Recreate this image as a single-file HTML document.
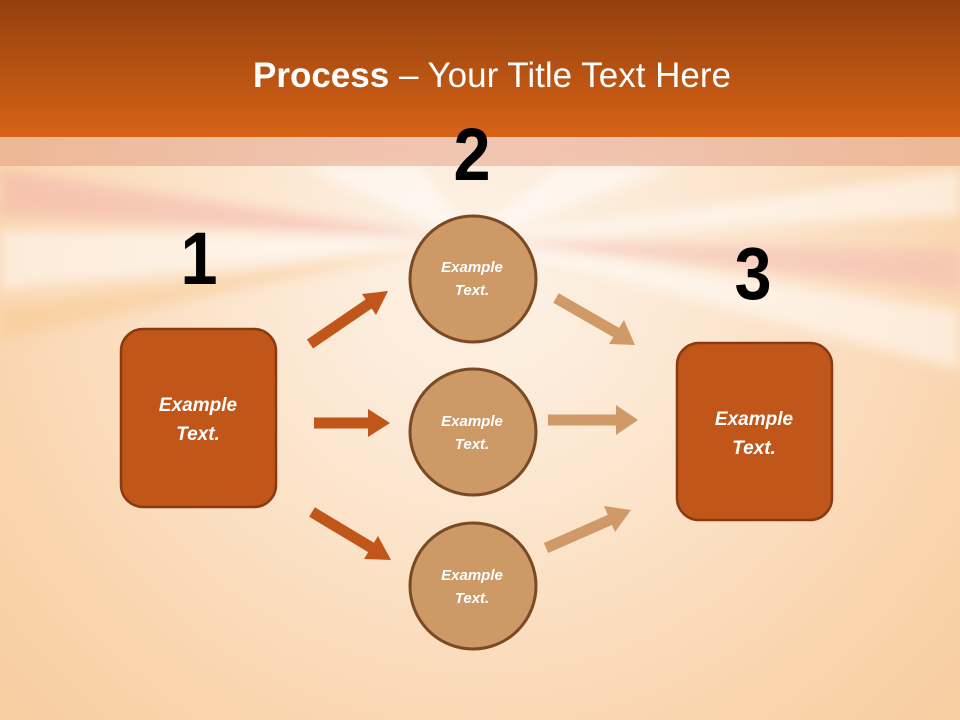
<!DOCTYPE html>
<html><head><meta charset="utf-8"><style>
html,body{margin:0;padding:0;width:960px;height:720px;overflow:hidden}
</style></head><body>
<svg width="960" height="720" viewBox="0 0 960 720" xmlns="http://www.w3.org/2000/svg" font-family="'Liberation Sans',sans-serif">
<defs>
<radialGradient id="bg" cx="480" cy="260" r="700" gradientUnits="userSpaceOnUse">
<stop offset="0" stop-color="#fdf3e8"/>
<stop offset="0.35" stop-color="#fce6cf"/>
<stop offset="0.7" stop-color="#fad6b0"/>
<stop offset="1" stop-color="#f7cb9e"/>
</radialGradient>
<linearGradient id="hd" x1="0" y1="0" x2="0" y2="1">
<stop offset="0" stop-color="#93400d"/>
<stop offset="1" stop-color="#d76317"/>
</linearGradient>
<filter id="bl"><feGaussianBlur stdDeviation="6"/></filter>
</defs>
<rect width="960" height="720" fill="url(#bg)"/>
<g opacity="0.5" filter="url(#bl)">
<polygon points="470,240 0,170 0,215" fill="#f3b0a8"/>
<polygon points="470,240 0,230 0,290" fill="#ffffff"/>
<polygon points="470,240 960,170 960,215" fill="#ffffff"/>
<polygon points="470,240 960,250 960,290" fill="#f3b8b0"/>
<polygon points="470,240 960,310 960,370" fill="#ffffff"/>
<polygon points="470,240 0,310 0,340" fill="#f8c890"/>
<polygon points="470,240 300,166 420,166" fill="#ffffff"/>
<polygon points="470,240 560,166 680,166" fill="#ffffff"/>
</g>
<rect x="0" y="0" width="960" height="137" fill="url(#hd)"/>
<rect x="0" y="137" width="960" height="29" fill="#dc8a6e" opacity="0.4"/>
<text x="492" y="87" text-anchor="middle" font-size="35" fill="#fff"><tspan font-weight="bold">Process</tspan> – Your Title Text Here</text>
<g font-size="74" font-weight="bold" fill="#000" text-anchor="middle">
<text x="472" y="180" transform="translate(472 0) scale(0.9 1) translate(-472 0)">2</text>
<text x="199" y="284" transform="translate(199 0) scale(0.9 1) translate(-199 0)">1</text>
<text x="753" y="299" transform="translate(753 0) scale(0.9 1) translate(-753 0)">3</text>
</g>
<g stroke-linecap="butt">
<line x1="310" y1="344" x2="370" y2="303" stroke="#c0561a" stroke-width="11"/>
<polygon points="388,291 362,294 376,315" fill="#c0561a"/>
<line x1="314" y1="423" x2="368" y2="423" stroke="#c0561a" stroke-width="11"/>
<polygon points="390,423 368,409 368,437" fill="#c0561a"/>
<line x1="312" y1="512" x2="372" y2="548" stroke="#c0561a" stroke-width="11"/>
<polygon points="391,560 378,536 364,559" fill="#c0561a"/>
<line x1="556" y1="298" x2="617" y2="333" stroke="#d09a68" stroke-width="11"/>
<polygon points="635,345 624,320 609,344" fill="#d09a68"/>
<line x1="548" y1="420" x2="616" y2="420" stroke="#d09a68" stroke-width="11"/>
<polygon points="638,420 616,405 616,435" fill="#d09a68"/>
<line x1="546" y1="548" x2="612" y2="519" stroke="#d09a68" stroke-width="11"/>
<polygon points="631,510 604,506 615,532" fill="#d09a68"/>
</g>
<rect x="121" y="329" width="155" height="178" rx="22" fill="#c05619" stroke="#8a3a10" stroke-width="2.5"/>
<rect x="677" y="343" width="155" height="177" rx="22" fill="#c05619" stroke="#8a3a10" stroke-width="2.5"/>
<g font-style="italic" font-weight="bold" fill="#fff" text-anchor="middle">
<text x="198" y="411" font-size="19">Example</text>
<text x="198" y="440" font-size="19">Text.</text>
<text x="754" y="425" font-size="19">Example</text>
<text x="754" y="454" font-size="19">Text.</text>
</g>
<g fill="#cd9966" stroke="#7a4a25" stroke-width="3">
<circle cx="473" cy="279" r="63"/>
<circle cx="473" cy="432" r="63"/>
<circle cx="473" cy="586" r="63"/>
</g>
<g font-style="italic" font-weight="bold" fill="#fff" text-anchor="middle" font-size="15">
<text x="472" y="272">Example</text><text x="472" y="295">Text.</text>
<text x="472" y="426">Example</text><text x="472" y="449">Text.</text>
<text x="472" y="580">Example</text><text x="472" y="603">Text.</text>
</g>
</svg>
</body></html>
